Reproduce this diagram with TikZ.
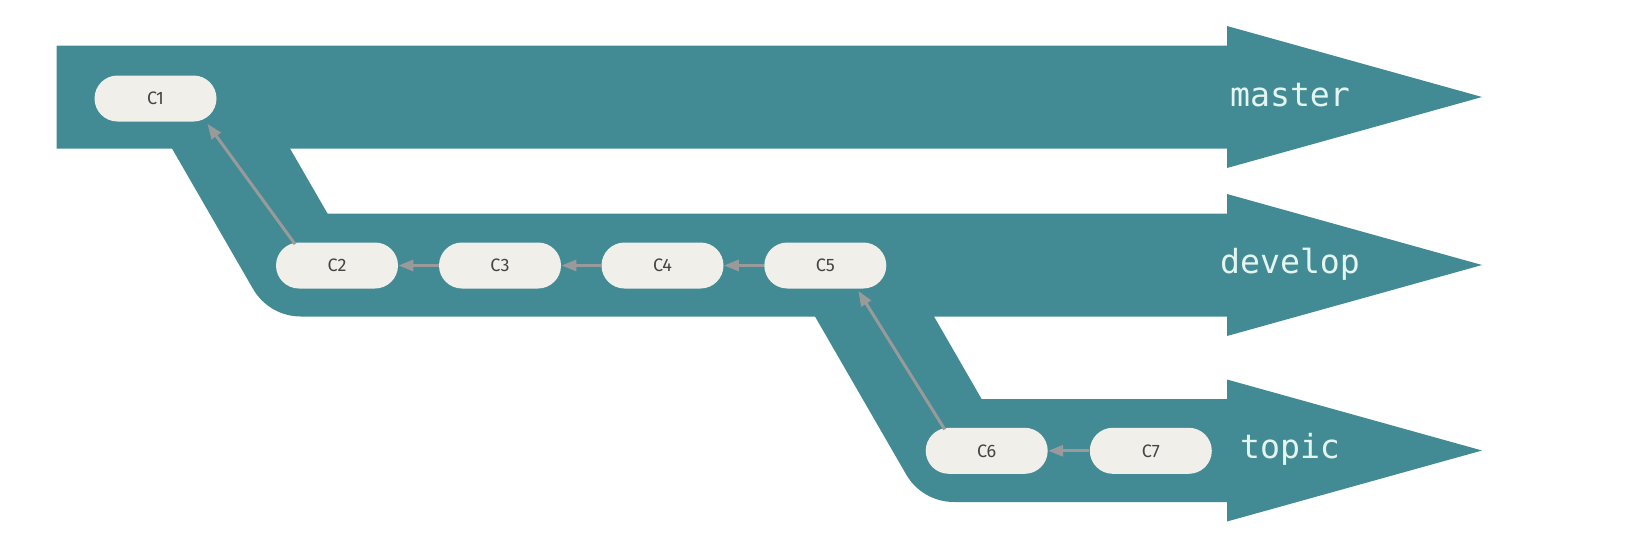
\documentclass[tikz,border=0pt]{standalone}
\usepackage{fontspec}
\setmonofont{DejaVu Sans Mono}
\newfontfamily\commitfont{Fira Sans}
\usetikzlibrary{arrows.meta,shapes.misc}
\definecolor{bandcol}{RGB}{66,139,148}
\definecolor{commitfill}{RGB}{240,239,233}
\definecolor{commitfg}{RGB}{68,68,68}
\definecolor{linkcol}{RGB}{154,154,154}
\definecolor{labelfg}{RGB}{228,245,240}
\tikzset{
  band/.style={fill=bandcol},
  commit/.style={rounded rectangle, fill=commitfill, minimum width=61pt, minimum height=23pt, inner sep=0pt,
    font=\fontsize{9}{11}\selectfont\commitfont, text=commitfg},
  branchlabel/.style={anchor=base, inner sep=0pt, font=\fontsize{16.6}{20}\selectfont\ttfamily, text=labelfg},
  link/.style={draw=linkcol, line width=1.5pt, -{Triangle[length=7.5pt,width=5.5pt]}}
}
\begin{document}
\begin{tikzpicture}[x=0.5pt,y=-0.5pt]
\useasboundingbox (0,0) rectangle (1632,536);
\fill[white] (0,0) rectangle (1632,536);
% master band
\fill[band] (56.7,45.5) -- (1227,45.5) -- (1227,26) -- (1482,97) -- (1227,168) -- (1227,148.5) -- (56.7,148.5) -- cycle;
% develop band
\fill[band] (167.1,140) -- (253.1,289) .. controls (262.9,306) and (281.1,316.5) .. (300.75,316.5) -- (1227,316.5) -- (1227,336) -- (1482,265) -- (1227,194) -- (1227,213.5) -- (327.5,213.5) -- (285.1,140) -- cycle;
% topic band
\fill[band] (810.1,308) -- (906.2,474.5) .. controls (916,491.5) and (934.3,502) .. (953.9,502) -- (1227,502) -- (1227,521.5) -- (1482,450.5) -- (1227,379.5) -- (1227,399) -- (981.6,399) -- (929.1,308) -- cycle;
% labels
\node[branchlabel] (lmaster) at (1290,106) {master};
\node[branchlabel] (ldevelop) at (1290,273.5) {develop};
\node[branchlabel] (ltopic) at (1290,458.5) {topic};
% commits
\node[commit] (C1) at (155.5,98.5) {C1};
\node[commit] (C2) at (337,265.5) {C2};
\node[commit] (C3) at (500,265.5) {C3};
\node[commit] (C4) at (662.5,265.5) {C4};
\node[commit] (C5) at (825.3,265.5) {C5};
\node[commit] (C6) at (986.7,450.8) {C6};
\node[commit] (C7) at (1150.8,450.8) {C7};
% links
\draw[link] ([xshift=-21pt,yshift=-1pt]C2.north) -- ([xshift=26pt,yshift=-1pt]C1.south);
\draw[link] (C3.west) -- (C2.east);
\draw[link] (C4.west) -- (C3.east);
\draw[link] (C5.west) -- (C4.east);
\draw[link] ([xshift=-21pt,yshift=-1pt]C6.north) -- ([xshift=16.5pt,yshift=-1pt]C5.south);
\draw[link] (C7.west) -- (C6.east);
\end{tikzpicture}
\end{document}
